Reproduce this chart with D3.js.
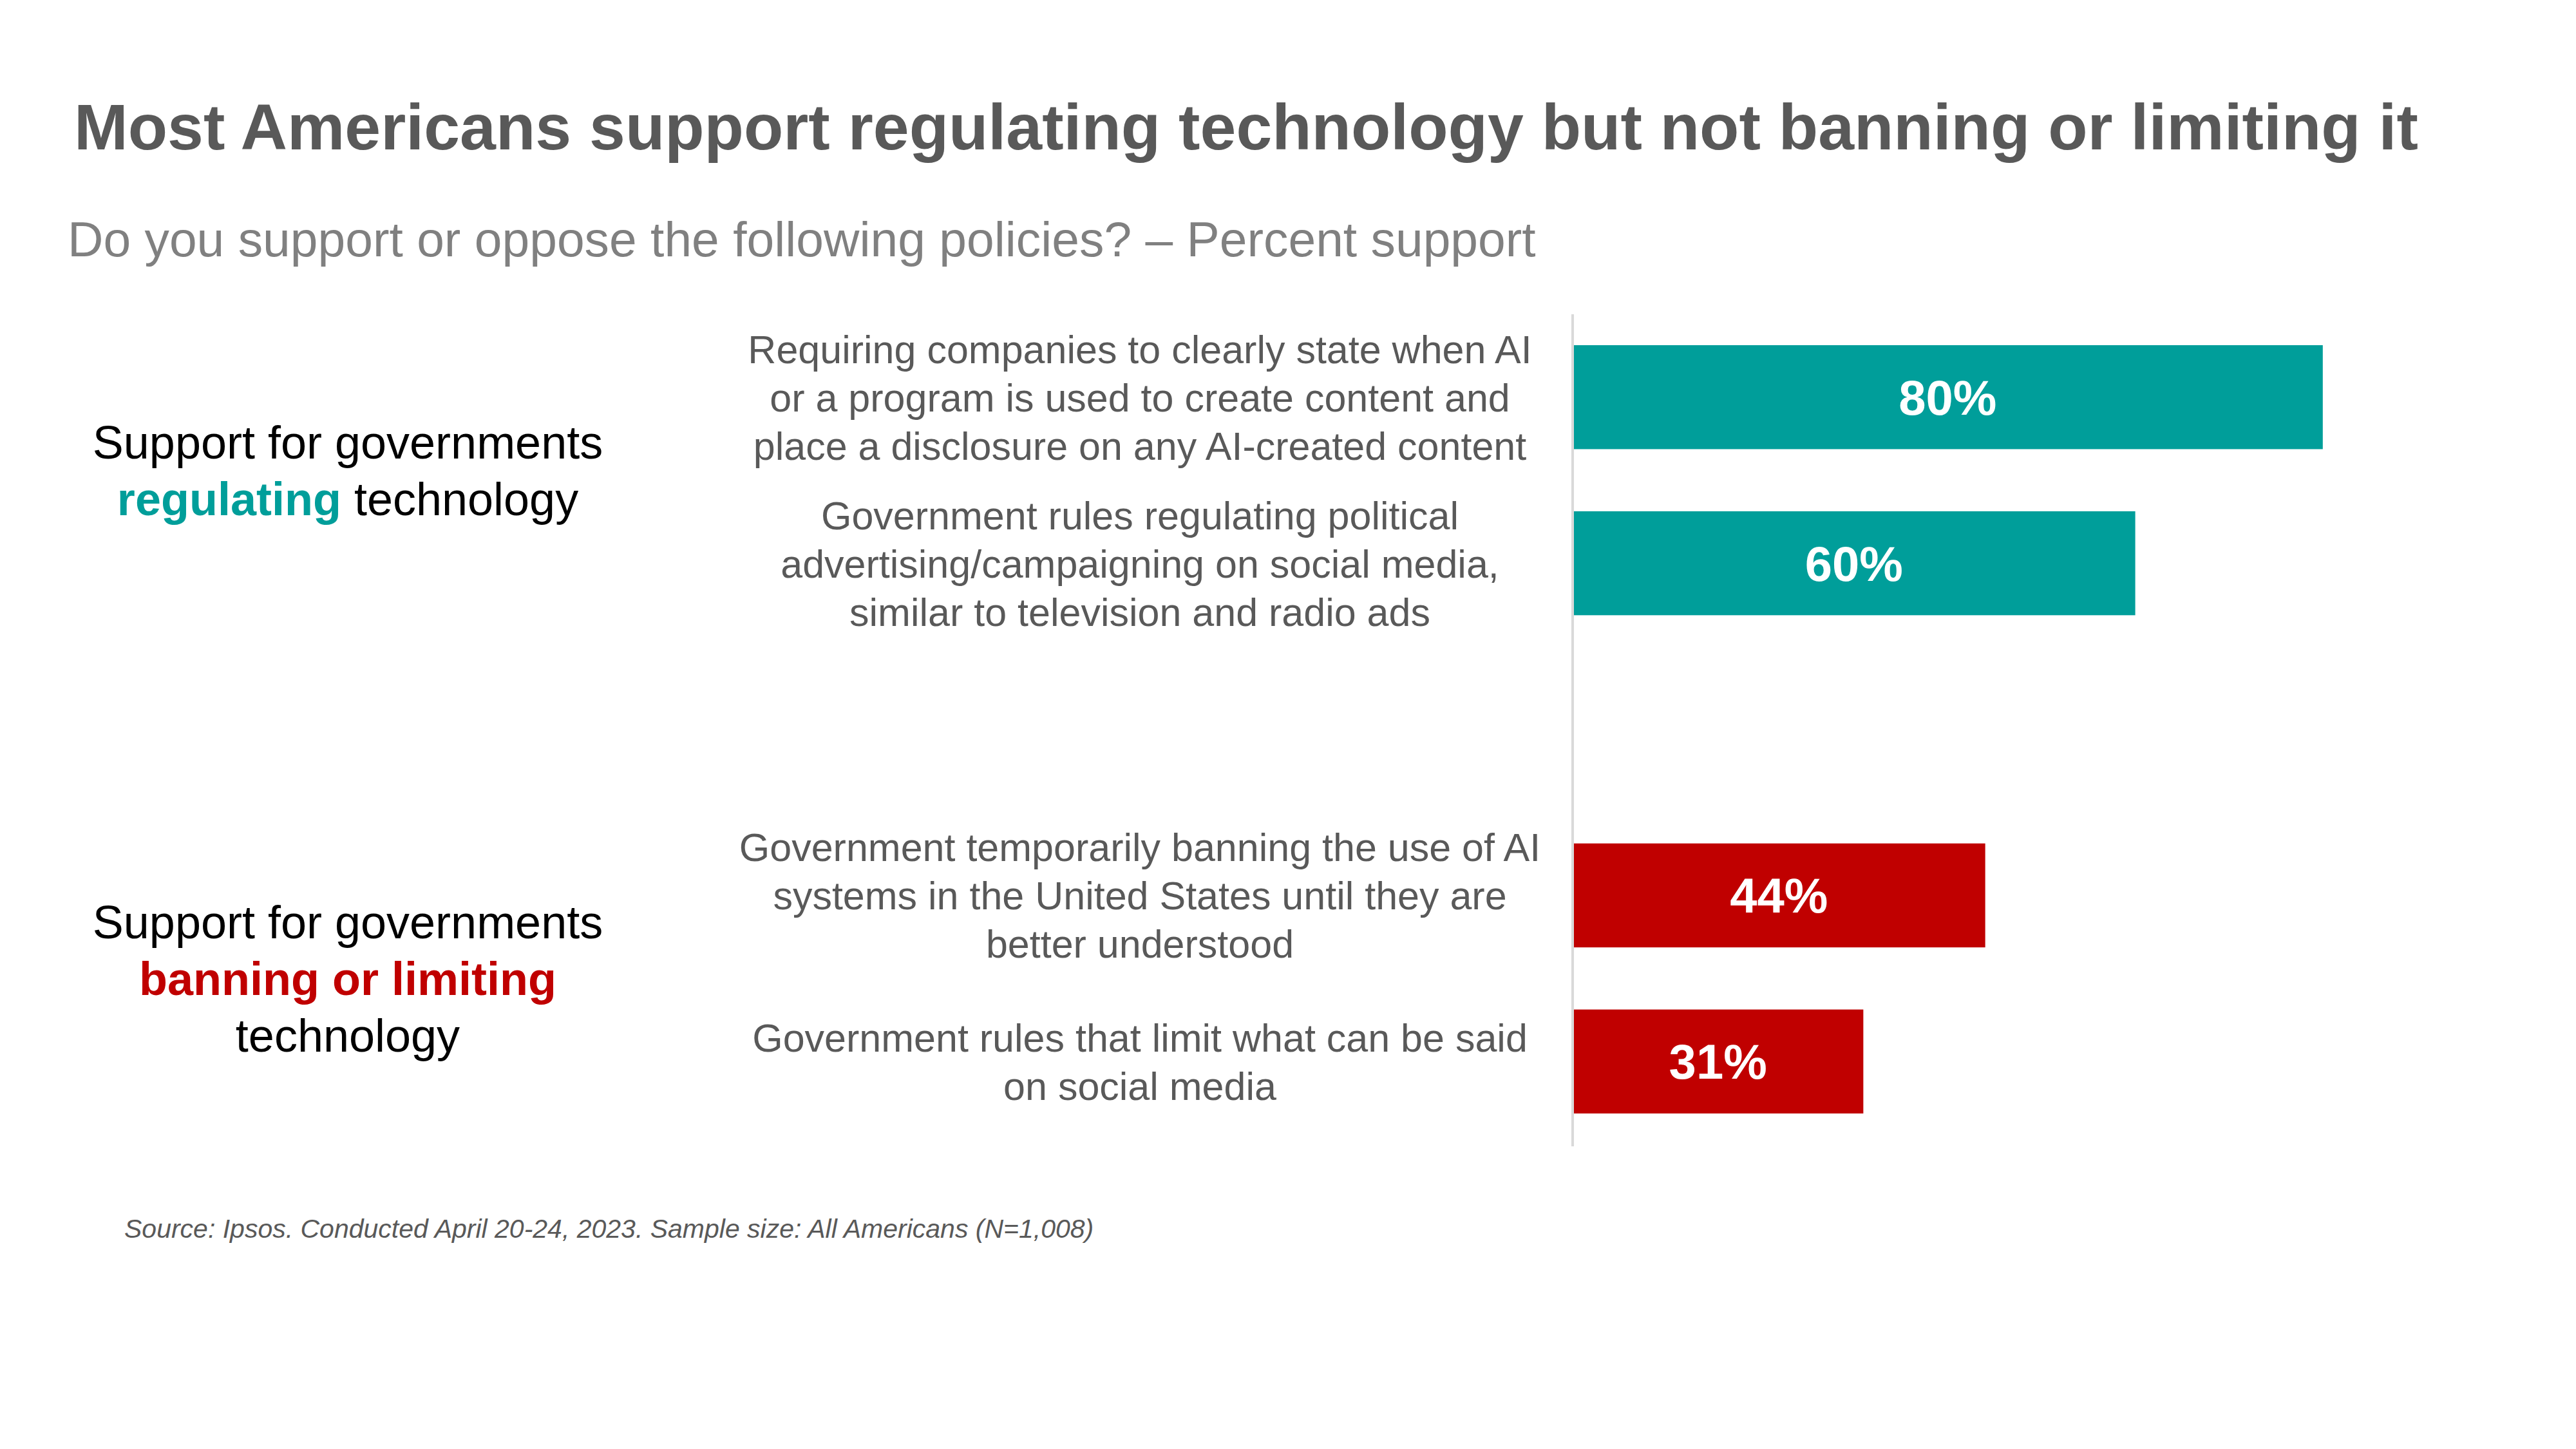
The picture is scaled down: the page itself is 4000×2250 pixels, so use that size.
<!DOCTYPE html>
<html><head><meta charset="utf-8">
<script src="https://cdn.jsdelivr.net/npm/d3@7"></script>
<style>body{margin:0;background:#fff}svg{display:block}text{font-family:"Liberation Sans",Arial,sans-serif}</style>
</head><body>
<script>
const title = "Most Americans support regulating technology but not banning or limiting it";
const subtitle = "Do you support or oppose the following policies? \u2013 Percent support";
const source = "Source: Ipsos. Conducted April 20-24, 2023. Sample size: All Americans (N=1,008)";
const categories = ["r1","r2","gap","b1","b2"];
const values = [80, 60, null, 44, 31];
const groups = ["reg","reg",null,"ban","ban"];
const labels = [
  ["Requiring companies to clearly state when AI","or a program is used to create content and","place a disclosure on any AI-created content"],
  ["Government rules regulating political","advertising/campaigning on social media,","similar to television and radio ads"],
  [],
  ["Government temporarily banning the use of AI","systems in the United States until they are","better understood"],
  ["Government rules that limit what can be said","on social media"]
];
const colors = {reg:"#009E9A", ban:"#C00000"};

const W=4000,H=2250;
const svg=d3.select("body").append("svg").attr("width",W).attr("height",H);

function fit(t,w){const l=t.node().getComputedTextLength();const fs=parseFloat(t.attr("font-size"));t.attr("font-size",fs*w/l);}
fit(svg.append("text").attr("x",115).attr("y",232).attr("font-size",100).attr("font-weight","bold").attr("fill","#595959").text(title),3640);
fit(svg.append("text").attr("x",105).attr("y",398).attr("font-size",70).attr("fill","#808080").text(subtitle),2280);

const x=d3.scaleLinear().domain([0,100]).range([2442,2442+1456]);
const y=d3.scaleBand().domain(categories).range([536,1729]).paddingInner(0.374).paddingOuter(0);

svg.append("line").attr("x1",x(0)).attr("x2",x(0)).attr("y1",488).attr("y2",1780).attr("stroke","#d9d9d9").attr("stroke-width",4);

const idx=d3.range(categories.length).filter(i=>values[i]!=null);
svg.selectAll("rect.bar").data(idx).join("rect").attr("class","bar")
  .attr("x",x(0)+2).attr("y",i=>y(categories[i])).attr("height",y.bandwidth())
  .attr("width",i=>x(values[i])-x(0)-2).attr("fill",i=>colors[groups[i]]);
svg.selectAll("text.val").data(idx).join("text").attr("class","val")
  .attr("x",i=>(x(0)+x(values[i]))/2).attr("y",i=>y(categories[i])+y.bandwidth()/2+27)
  .attr("text-anchor","middle").attr("font-size",76).attr("font-weight","bold").attr("fill","#fff")
  .text(i=>values[i]+"%");

const lh=75;
idx.forEach(i=>{
  const L=labels[i], cy=y(categories[i])+y.bandwidth()/2;
  const t=svg.append("text").attr("text-anchor","middle").attr("font-size",61).attr("fill","#595959");
  L.forEach((s,k)=>t.append("tspan").attr("x",1770).attr("y",cy+(k-(L.length-1)/2)*lh+22).text(s));
});
// right-align labels by measuring the block width per line
svg.selectAll("tspan").each(function(){});

function groupLabel(cy,parts){
  const lines=parts.length, t=svg.append("text").attr("text-anchor","middle").attr("font-size",72).attr("fill","#000");
  parts.forEach((segs,k)=>{
    const ts=t.append("tspan").attr("x",540).attr("y",cy+(k-(lines-1)/2)*88+26);
    segs.forEach((sg,j)=>{(j?t.append("tspan"):ts).text(sg[0]).attr("fill",sg[1]||"#000").attr("font-weight",sg[1]?"bold":"normal");});
  });
}
const yc1=(y("r1")+y("r2")+y.bandwidth())/2, yc2=(y("b1")+y("b2")+y.bandwidth())/2;
groupLabel(yc1-16,[[["Support for governments"]],[["regulating",colors.reg],[" technology"]]]);
groupLabel(yc2,[[["Support for governments"]],[["banning or limiting",colors.ban]],[["technology"]]]);

svg.append("text").attr("x",193).attr("y",1922).attr("font-size",41).attr("font-style","italic").attr("fill","#595959").text(source);
</script>
</body></html>
